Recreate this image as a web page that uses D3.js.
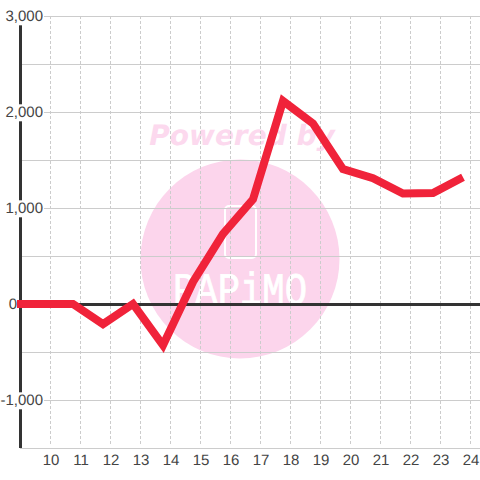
<!DOCTYPE html>
<html>
<head>
<meta charset="utf-8">
<script src="https://cdn.jsdelivr.net/npm/d3@7"></script>
<style>
html, body { margin: 0; padding: 0; background: #fff; }
svg { display: block; }
text { font-family: "Liberation Sans", Arial, sans-serif; text-rendering: geometricPrecision; }
</style>
</head>
<body>
<div id="wrapper"></div>
<script>
const hours = [9, 10, 11, 12, 13, 14, 15, 16, 17, 18, 19, 20, 21, 22, 23, 24];
const values = [0, 0, 0, -210, 0, -430, 230, 730, 1090, 2115, 1880, 1405, 1310, 1150, 1155, 1320];
const xTickLabels = [10, 11, 12, 13, 14, 15, 16, 17, 18, 19, 20, 21, 22, 23, 24];
const yGridValues = [-1500, -1000, -500, 0, 500, 1000, 1500, 2000, 2500, 3000];
const yTickLabels = [-1000, 0, 1000, 2000, 3000];

const dimension = { width: 480, height: 480, left: 20, right: 480, top: 16, bottom: 448 };

const svg = d3.select("#wrapper").append("svg")
    .attr("width", dimension.width)
    .attr("height", dimension.height);

const x_scaler = d3.scaleLinear().domain([9, 24]).range([20.5, 470.5]);
const y_scaler = d3.scaleLinear().domain([-1500, 3000]).range([dimension.bottom, dimension.top]);
// points sit a little left of their tick
const pointOffset = -7.5;

// watermark
const mark = svg.append("g");
mark.append("circle").attr("cx", 240).attr("cy", 259).attr("r", 99.5).attr("fill", "#fcd5ec");
mark.append("text")
    .attr("x", 242).attr("y", 145)
    .attr("text-anchor", "middle")
    .attr("fill", "#fcd9ee")
    .style("font-family", "'DejaVu Sans'")
    .style("font-weight", "bold")
    .style("font-style", "italic")
    .style("font-size", "28px")
    .text("Powered by");
mark.append("rect")
    .attr("x", 225).attr("y", 206).attr("width", 31).attr("height", 52).attr("rx", 4)
    .attr("fill", "none").attr("stroke", "#fff").attr("stroke-width", 2);
mark.append("text")
    .attr("x", 173).attr("y", 304)
    .attr("textLength", 134)
    .attr("lengthAdjust", "spacingAndGlyphs")
    .attr("fill", "#fff")
    .attr("stroke", "#fff")
    .attr("stroke-width", 0.8)
    .style("font-family", "'Liberation Mono'")
    .style("font-size", "45px")
    .text("PAPiMO");

// grid
const gridY = d3.axisLeft(y_scaler).tickValues(yGridValues)
    .tickSize(-(dimension.right - dimension.left)).tickFormat("");
svg.append("g")
    .attr("transform", `translate(${dimension.left},0)`)
    .call(gridY)
    .call(g => g.select(".domain").remove())
    .call(g => g.selectAll("line").attr("stroke", "#ccc"));

const gridX = d3.axisBottom(x_scaler).tickValues(xTickLabels).offset(0)
    .tickSize(dimension.bottom - 2 - dimension.top).tickFormat("");
svg.append("g")
    .attr("transform", `translate(0,${dimension.top})`)
    .call(gridX)
    .call(g => g.select(".domain").remove())
    .call(g => g.selectAll("line").attr("stroke", "#ccc").attr("stroke-dasharray", "3,2"));

// left axis line and zero line
svg.append("line")
    .attr("x1", 20.5).attr("x2", 20.5)
    .attr("y1", dimension.top).attr("y2", dimension.bottom)
    .attr("stroke", "#333").attr("stroke-width", 3);
svg.append("line")
    .attr("x1", dimension.left).attr("x2", dimension.right)
    .attr("y1", y_scaler(0) + 0.5).attr("y2", y_scaler(0) + 0.5)
    .attr("stroke", "#333").attr("stroke-width", 3);

// y labels, each on a white box
const y_axis = d3.axisLeft(y_scaler).tickValues(yTickLabels).tickSize(0)
    .tickFormat(d => d3.format(",")(d).replace("−", "-"));
const yLabels = svg.append("g")
    .attr("transform", "translate(43,0)")
    .call(y_axis);
yLabels.select(".domain").remove();
yLabels.selectAll("text")
    .attr("x", 0)
    .attr("fill", "#444")
    .style("font-family", "'Liberation Sans'")
    .style("font-size", "15px");
yLabels.selectAll(".tick").filter(d => d === 0).select("text").attr("x", -26);
yLabels.selectAll(".tick").each(function () {
    const t = d3.select(this).select("text");
    const box = t.node().getBBox();
    d3.select(this).insert("rect", "text")
        .attr("x", box.x - 1).attr("y", box.y)
        .attr("width", box.width + 2).attr("height", box.height)
        .attr("fill", "#fff");
});

// x labels
const x_axis = d3.axisBottom(x_scaler).tickValues(xTickLabels).tickSize(0);
const xLabels = svg.append("g")
    .attr("transform", `translate(0,${dimension.bottom})`)
    .call(x_axis);
xLabels.select(".domain").remove();
xLabels.selectAll("text")
    .attr("y", 6)
    .attr("fill", "#444")
    .style("font-family", "'Liberation Sans'")
    .style("font-size", "15px");

// series
svg.append("clipPath").attr("id", "plot")
    .append("rect")
    .attr("x", 17).attr("y", 0)
    .attr("width", dimension.right - 17).attr("height", dimension.height);

const line = d3.line()
    .x(d => x_scaler(d.hour) + pointOffset)
    .y(d => y_scaler(d.value));

svg.append("path")
    .attr("clip-path", "url(#plot)")
    .attr("fill", "none")
    .attr("stroke", "#f0233a")
    .attr("stroke-width", 8)
    .attr("stroke-linejoin", "miter")
    .attr("stroke-miterlimit", 2)
    .attr("d", line(hours.map((h, i) => ({ hour: h, value: values[i] }))));
</script>
</body>
</html>
